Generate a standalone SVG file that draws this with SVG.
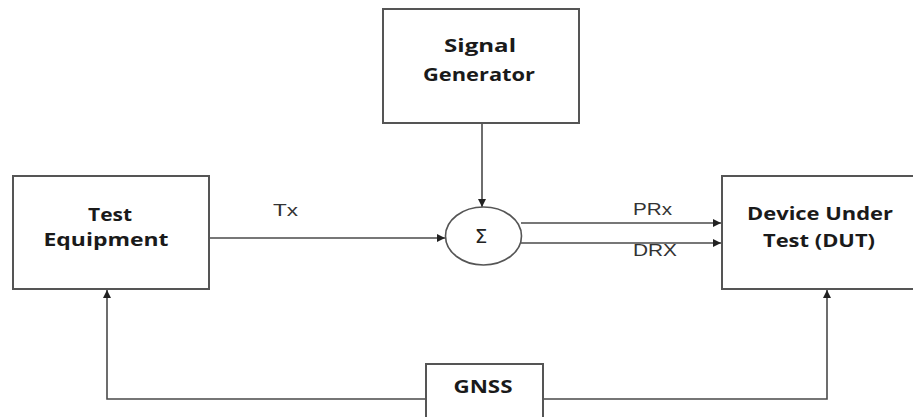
<svg xmlns="http://www.w3.org/2000/svg" width="913" height="417" viewBox="0 0 913 417">
  <defs>
    <marker id="arrow" viewBox="0 0 10 10" refX="10" refY="5" markerWidth="8" markerHeight="8" markerUnits="userSpaceOnUse" orient="auto">
      <path d="M0,0 L10,5 L0,10 Z" fill="#222"/>
    </marker>
    <style>
      .box { fill: #ffffff; stroke: #555555; stroke-width: 2; }
      .wire { fill: none; stroke: #4a4a4a; stroke-width: 1.6; }
      .title { font-family: "Open Sans", "Noto Sans", sans-serif; font-weight: bold; font-size: 17px; fill: #1a1a1a; text-anchor: middle; }
      .tag { font-family: "Liberation Sans", Arial, sans-serif; font-size: 17px; fill: #333333; }
    </style>
  </defs>
  <rect width="913" height="417" fill="#ffffff"/>

  <!-- connectors -->
  <g id="connectors">
    <line class="wire" x1="482" y1="123" x2="482" y2="207" marker-end="url(#arrow)"/>
    <line class="wire" x1="209" y1="238" x2="445" y2="238" marker-end="url(#arrow)"/>
    <line class="wire" x1="521" y1="223" x2="721" y2="223" marker-end="url(#arrow)"/>
    <line class="wire" x1="521" y1="243" x2="721" y2="243" marker-end="url(#arrow)"/>
    <polyline class="wire" points="426,399 107,399 107,290" marker-end="url(#arrow)"/>
    <polyline class="wire" points="543,399 827,399 827,290" marker-end="url(#arrow)"/>
    <text class="tag" x="273" y="216" textLength="25" lengthAdjust="spacingAndGlyphs">Tx</text>
    <text class="tag" x="633" y="215" textLength="39" lengthAdjust="spacingAndGlyphs">PRx</text>
    <text class="tag" x="633" y="256" textLength="44" lengthAdjust="spacingAndGlyphs">DRX</text>
  </g>

  <g id="signal-generator">
    <rect class="box" x="383" y="9" width="196" height="114"/>
    <text class="title" x="480" y="52" textLength="72" lengthAdjust="spacingAndGlyphs">Signal</text>
    <text class="title" x="479" y="81" textLength="112" lengthAdjust="spacingAndGlyphs">Generator</text>
  </g>

  <g id="test-equipment">
    <rect class="box" x="13" y="176" width="196" height="113"/>
    <text class="title" x="110" y="221" textLength="44" lengthAdjust="spacingAndGlyphs">Test</text>
    <text class="title" x="106" y="246" textLength="125" lengthAdjust="spacingAndGlyphs">Equipment</text>
  </g>

  <g id="summer">
    <ellipse cx="483.5" cy="236" rx="38" ry="29" fill="#ffffff" stroke="#555555" stroke-width="1.6"/>
    <text x="481" y="243" font-family="DejaVu Sans, sans-serif" font-size="20" fill="#222222" text-anchor="middle">Σ</text>
  </g>

  <g id="dut">
    <rect class="box" x="722" y="176" width="200" height="113"/>
    <text class="title" x="820" y="220" textLength="146" lengthAdjust="spacingAndGlyphs">Device Under</text>
    <text class="title" x="819" y="247" textLength="112" lengthAdjust="spacingAndGlyphs">Test (DUT)</text>
  </g>

  <g id="gnss">
    <rect class="box" x="426" y="364" width="117" height="60"/>
    <text class="title" x="483" y="393" textLength="59" lengthAdjust="spacingAndGlyphs">GNSS</text>
  </g>
</svg>
